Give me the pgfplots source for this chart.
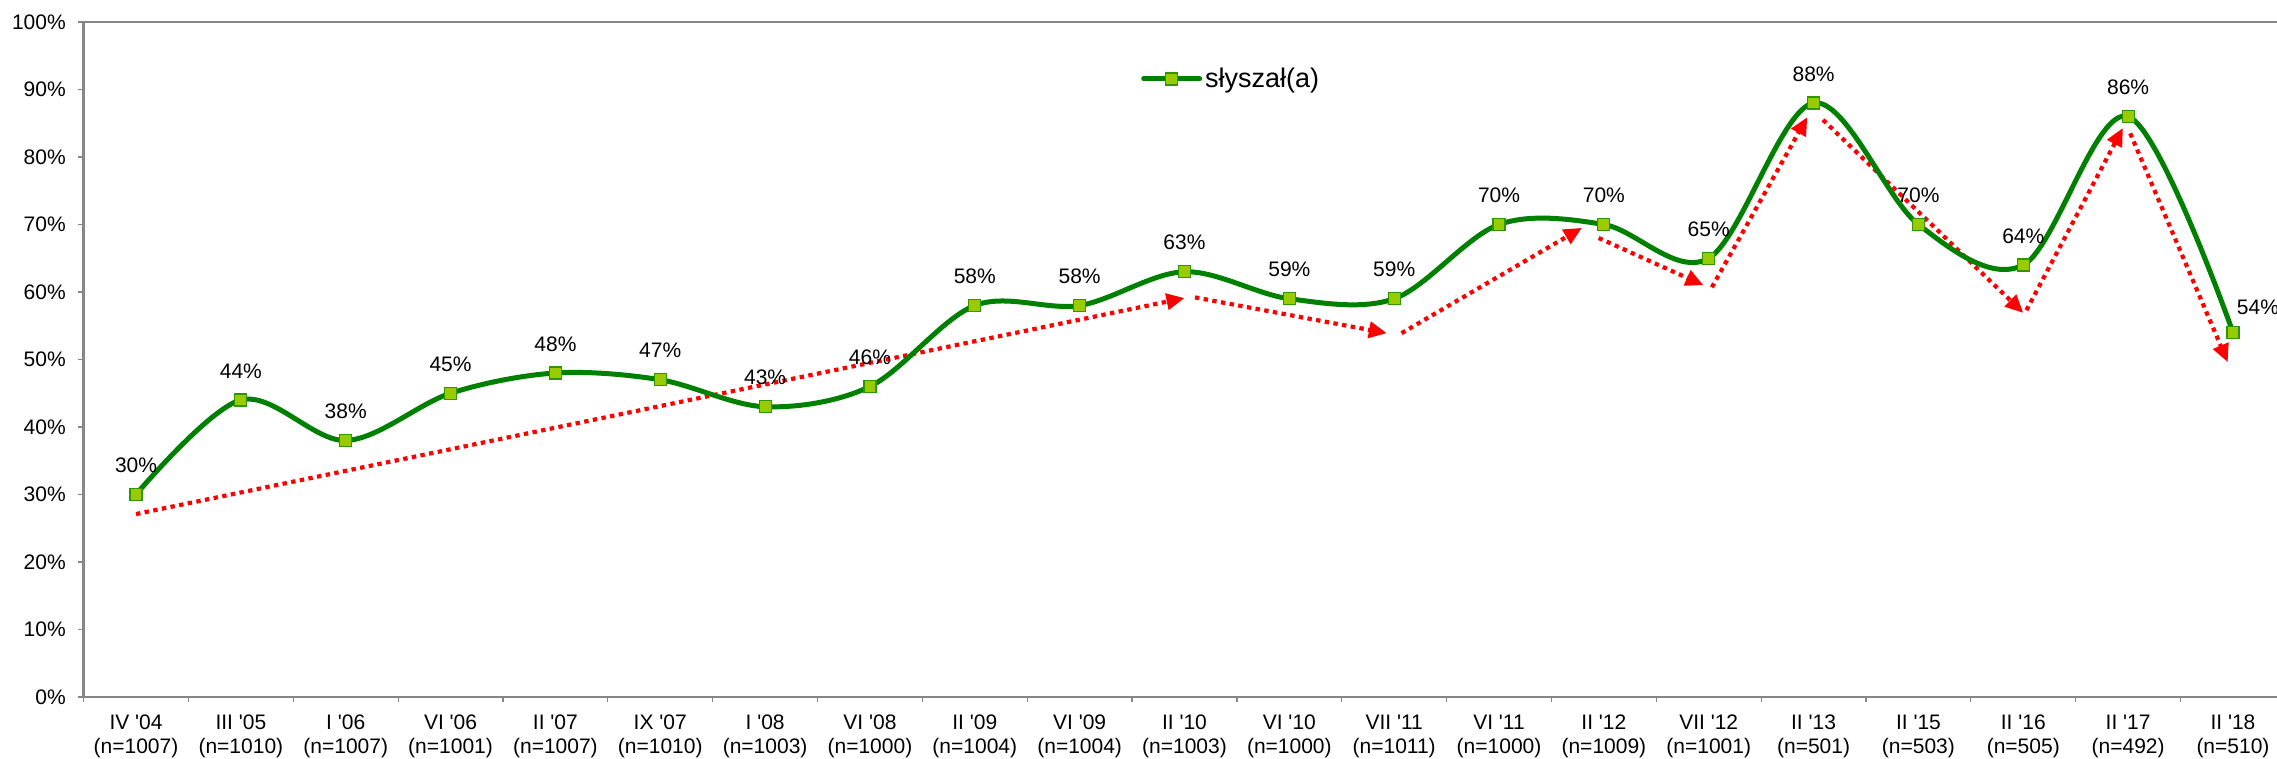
\documentclass[border=0pt]{standalone}
\usepackage{pgfplots}
\pgfplotsset{compat=1.18}
\usepackage{pgfplotstable}
\usepackage{fontspec}
\setmainfont{Liberation Sans}
\usetikzlibrary{arrows.meta}
\definecolor{lgreen}{RGB}{0,128,0}
\definecolor{limefill}{RGB}{153,204,0}
\definecolor{axgray}{RGB}{134,134,134}
\definecolor{arrred}{RGB}{255,0,0}
\newcommand{\q}{\textquotesingle}

\pgfplotstableread{
x y
0 30
1 44
2 38
3 45
4 48
5 47
6 43
7 46
8 58
9 58
10 63
11 59
12 59
13 70
14 70
15 65
16 88
17 70
18 64
19 86
20 54
}\datatable

\begin{document}
\begin{tikzpicture}
\begin{axis}[
  scale only axis, width=1096.7pt, height=337.5pt,
  xmin=-0.5, xmax=20.42, ymin=0, ymax=100,
  axis lines=left,
  axis line style={-, axgray, line width=1.3pt},
  tick align=outside,
  tick style={axgray, line width=0.6pt},
  /pgf/number format/assume math mode=true,
  ytick={0,10,...,100},
  yticklabel={\pgfmathprintnumber{\tick}\%},
  yticklabel style={font=\fontsize{10.5}{12}\selectfont, xshift=-2.6pt},
  major tick length=2.8pt,
  minor tick length=2.6pt,
  xtick={0,...,20},
  major x tick style={draw=none},
  minor xtick={-0.5,0.5,...,19.5},
  xticklabels={{IV \q04\\(n=1007)},{III \q05\\(n=1010)},{I \q06\\(n=1007)},{VI \q06\\(n=1001)},{II \q07\\(n=1007)},{IX \q07\\(n=1010)},{I \q08\\(n=1003)},{VI \q08\\(n=1000)},{II \q09\\(n=1004)},{VI \q09\\(n=1004)},{II \q10\\(n=1003)},{VI \q10\\(n=1000)},{VII \q11\\(n=1011)},{VI \q11\\(n=1000)},{II \q12\\(n=1009)},{VII \q12\\(n=1001)},{II \q13\\(n=501)},{II \q15\\(n=503)},{II \q16\\(n=505)},{II \q17\\(n=492)},{II \q18\\(n=510)}},
  xticklabel style={align=center, font=\fontsize{10.5}{12}\selectfont, yshift=-2.5pt},
  legend style={at={(0.482,0.9156)}, anchor=west, draw=none, fill=none,
    font=\fontsize{13.5}{15}\selectfont, inner sep=0pt,
    nodes={inner sep=1.5pt}},
  legend image code/.code={\draw[mark repeat=2, mark phase=2, line cap=round, #1] plot coordinates {(0pt,0pt) (14pt,0pt) (28pt,0pt)};},
  clip=false,
]
\draw[axgray, line width=1.3pt] (rel axis cs:0,1) -- (rel axis cs:1,1);

% red dotted trend arrows
\addplot[forget plot, arrred, line width=2.1pt, dash pattern=on 2.2pt off 2.2pt, -{Triangle[length=9pt, width=8pt]}] coordinates {(0,27.1) (10.0,59.1)};
\addplot[forget plot, arrred, line width=2.1pt, dash pattern=on 2.2pt off 2.2pt, -{Triangle[length=9pt, width=8pt]}] coordinates {(10.1,59.2) (11.93,53.9)};
\addplot[forget plot, arrred, line width=2.1pt, dash pattern=on 2.2pt off 2.2pt, -{Triangle[length=9pt, width=8pt]}] coordinates {(12.07,53.9) (13.79,69.5)};
\addplot[forget plot, arrred, line width=2.1pt, dash pattern=on 2.2pt off 2.2pt, -{Triangle[length=9pt, width=8pt]}] coordinates {(13.95,68.0) (14.95,61.0)};
\addplot[forget plot, arrred, line width=2.1pt, dash pattern=on 2.2pt off 2.2pt, -{Triangle[length=9pt, width=8pt]}] coordinates {(15.03,60.7) (15.94,85.9)};
\addplot[forget plot, arrred, line width=2.1pt, dash pattern=on 2.2pt off 2.2pt, -{Triangle[length=9pt, width=8pt]}] coordinates {(16.09,85.5) (18.0,56.9)};
\addplot[forget plot, arrred, line width=2.1pt, dash pattern=on 2.2pt off 2.2pt, -{Triangle[length=9pt, width=8pt]}] coordinates {(18.03,57.3) (18.95,84.3)};
\addplot[forget plot, arrred, line width=2.1pt, dash pattern=on 2.2pt off 2.2pt, -{Triangle[length=9pt, width=8pt]}] coordinates {(19.02,83.5) (19.95,49.6)};

% main series
\addplot[lgreen, line width=2.5pt, smooth, tension=0.55,
  mark=square*, mark size=3pt,
  mark options={fill=limefill, draw=lgreen!70!limefill, line width=0.6pt, solid}]
  table[x=x, y=y] {\datatable};
\addlegendentry{słyszał(a)}

% data labels
\addplot[forget plot, draw=none, mark=none, point meta=y,
  restrict x to domain=0:19,
  nodes near coords={\pgfmathprintnumber{\pgfplotspointmeta}\%},
  every node near coord/.append style={anchor=center, yshift=14.5pt, xshift=0pt, font=\fontsize{10.5}{12}\selectfont}]
  table[x=x, y=y] {\datatable};
\addplot[forget plot, draw=none, mark=none, point meta=y,
  restrict x to domain=19.5:20.5,
  nodes near coords={\pgfmathprintnumber{\pgfplotspointmeta}\%},
  every node near coord/.append style={anchor=center, yshift=12.5pt, xshift=12.5pt, font=\fontsize{10.5}{12}\selectfont}]
  table[x=x, y=y] {\datatable};
\end{axis}
\pgfresetboundingbox
\path[use as bounding box] ([xshift=-41.8pt,yshift=-31pt]current axis.south west) rectangle ([yshift=11pt]current axis.north east);
\end{tikzpicture}
\end{document}
